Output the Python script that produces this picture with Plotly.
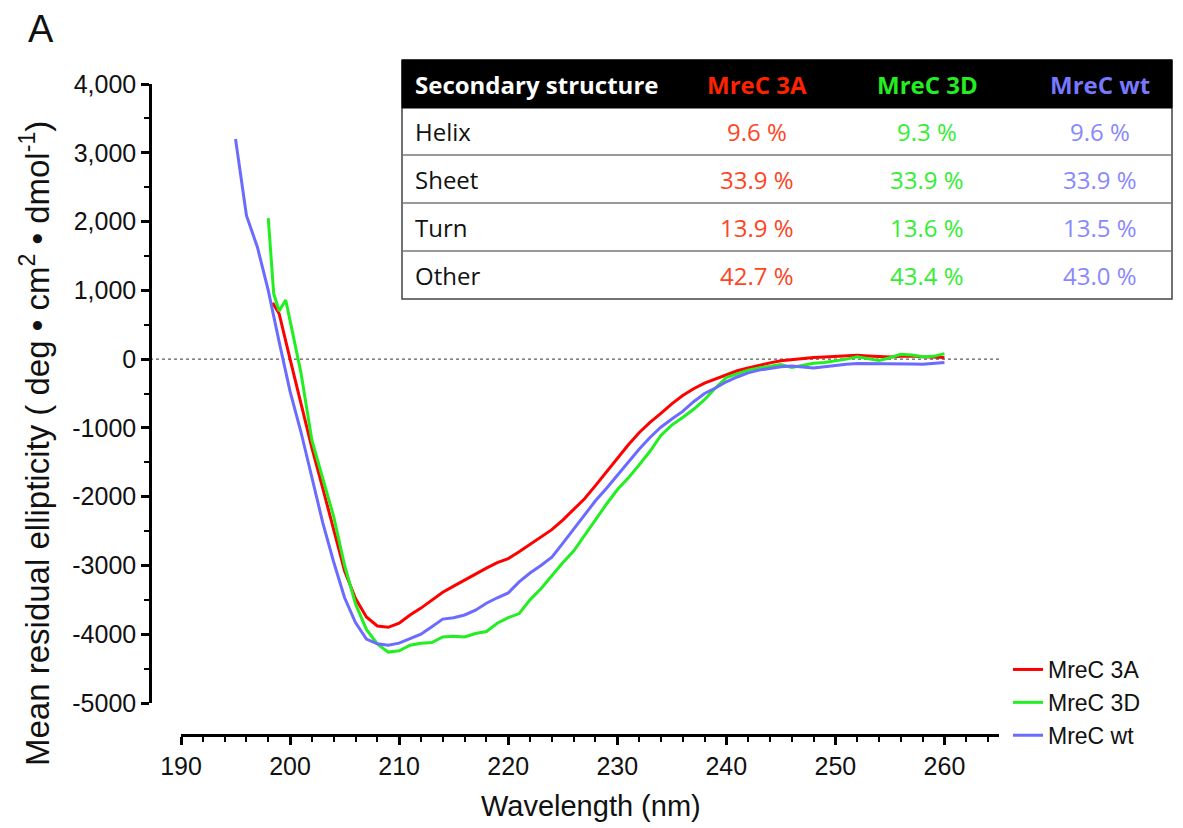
import plotly.graph_objects as go

# ---------------- data ----------------
wl_wt = [195, 196, 197, 198, 199, 200, 201, 202, 203, 204, 205, 206, 207, 208, 209, 210,
         211, 212, 213, 214, 215, 216, 217, 218, 219, 220, 221, 222, 223, 224, 225, 226,
         227, 228, 229, 230, 231, 232, 233, 234, 235, 236, 237, 238, 239, 240, 241, 242,
         243, 244, 245, 246, 247, 248, 249, 250, 251, 252, 253, 254, 255, 256, 257, 258,
         259, 260]
mre_wt = [3200, 2090, 1630, 1000, 250, -470, -1060, -1720, -2380, -2950, -3470, -3830,
          -4070, -4140, -4160, -4130, -4060, -4000, -3890, -3780, -3760, -3720, -3650,
          -3550, -3470, -3400, -3240, -3110, -3000, -2880, -2680, -2470, -2260, -2060,
          -1880, -1690, -1500, -1310, -1140, -990, -870, -760, -620, -500, -420, -330,
          -260, -200, -160, -130, -110, -100, -115, -130, -110, -90, -75, -65, -65, -60,
          -65, -70, -70, -75, -60, -48]

wl_3a = [198.4, 199, 200, 201, 202, 203, 204, 205, 206, 207, 208, 209, 210, 211, 212,
         213, 214, 215, 216, 217, 218, 219, 220, 221, 222, 223, 224, 225, 226, 227, 228,
         229, 230, 231, 232, 233, 234, 235, 236, 237, 238, 239, 240, 241, 242, 243, 244,
         245, 246, 247, 248, 249, 250, 251, 252, 253, 254, 255, 256, 257, 258, 259, 260]
mre_3a = [820, 660, 0, -660, -1290, -1880, -2480, -3080, -3480, -3750, -3880, -3900,
          -3840, -3720, -3620, -3500, -3390, -3300, -3210, -3120, -3040, -2960, -2900,
          -2800, -2690, -2580, -2480, -2340, -2180, -2030, -1840, -1640, -1440, -1250,
          -1070, -920, -790, -650, -530, -430, -350, -290, -230, -170, -130, -90, -55,
          -25, -5, 10, 25, 30, 35, 45, 55, 45, 35, 30, 40, 45, 35, 30, 25]

wl_3d = [198, 198.5, 199, 199.6, 200, 201, 202, 203, 204, 205, 206, 207, 208, 209, 210,
         211, 212, 213, 214, 215, 216, 217, 218, 219, 220, 221, 222, 223, 224, 225, 226,
         227, 228, 229, 230, 231, 232, 233, 234, 235, 236, 237, 238, 239, 240, 241, 242,
         243, 244, 245, 246, 247, 248, 249, 250, 251, 252, 253, 254, 255, 256, 257, 258,
         259, 260]
mre_3d = [2050, 950, 700, 860, 560, -200, -1180, -1750, -2290, -3000, -3560, -3930,
          -4140, -4260, -4240, -4160, -4130, -4120, -4040, -4030, -4040, -3990, -3960,
          -3840, -3760, -3700, -3500, -3340, -3150, -2960, -2790, -2560, -2330, -2110,
          -1900, -1730, -1540, -1340, -1110, -960, -850, -730, -590, -420, -270, -210,
          -160, -130, -100, -80, -120, -90, -60, -50, -30, 0, 35, 10, -20, 20, 70, 60,
          35, 40, 80]

series_names = ["MreC 3A", "MreC 3D", "MreC wt"]
line_colors = ["#ff0000", "#22ee22", "#6b6bff"]

y_tickvals = [4000, 3000, 2000, 1000, 0, -1000, -2000, -3000, -4000, -5000]
y_ticktext = ["4,000", "3,000", "2,000", "1,000", "0", "-1000", "-2000", "-3000", "-4000", "-5000"]
x_tickvals = [190, 200, 210, 220, 230, 240, 250, 260]

table_header = ["Secondary structure", "MreC 3A", "MreC 3D", "MreC wt"]
table_rows = ["Helix", "Sheet", "Turn", "Other"]
table_3a = ["9.6 %", "33.9 %", "13.9 %", "42.7 %"]
table_3d = ["9.3 %", "33.9 %", "13.6 %", "43.4 %"]
table_wt = ["9.6 %", "33.9 %", "13.5 %", "43.0 %"]
header_colors = ["#ffffff", "#ff2200", "#22ee22", "#7777ff"]
value_colors = ["#ff4422", "#33ee33", "#8888ff"]

# ---------------- layout geometry (screen pixels) ----------------
OFF = 8  # page body margin
W, H = 1183 - OFF, 828 - OFF
ML, MR, MT, MB = 150, 184, 84, 93   # screen-pixel positions of plot area edges
L_ = ML - OFF
T_ = MT - OFF
R_ = 999 - OFF
B_ = 735 - OFF
PW, PH = R_ - L_, B_ - T_


def px(xs):
    return (xs - OFF - L_) / PW


def py(ys):
    return (B_ - (ys - OFF)) / PH


fig = go.Figure()
for xs, ys, name, col in zip([wl_3a, wl_3d, wl_wt], [mre_3a, mre_3d, mre_wt],
                             series_names, line_colors):
    fig.add_trace(go.Scatter(x=xs, y=ys, mode="lines", name=name,
                             line=dict(color=col, width=3)))

arial = "Liberation Sans, Arial, sans-serif"
axis_font = dict(family=arial, size=25, color="#111")

fig.update_layout(
    width=W, height=H,
    margin=dict(l=L_, r=W - R_, t=T_, b=H - B_, autoexpand=False),
    paper_bgcolor="white", plot_bgcolor="white",
    showlegend=True,
    legend=dict(x=px(1008), y=py(648), xanchor="left", yanchor="top",
                font=dict(family=arial, size=23, color="#111"),
                bgcolor="rgba(0,0,0,0)", tracegroupgap=0, itemwidth=30),
    xaxis=dict(range=[190, 265], domain=[px(181), 1.0], anchor="free", position=0,
               showline=True, linecolor="black", linewidth=2.5, showgrid=False,
               zeroline=False, tickvals=x_tickvals, ticks="outside", ticklen=8,
               tickwidth=2.5, tickcolor="black", tickfont=axis_font,
               minor=dict(dtick=2, ticks="outside", ticklen=5, tickwidth=2,
                          tickcolor="black", showgrid=False)),
    yaxis=dict(range=[-5000, 4000], domain=[py(703), 1.0], anchor="free", position=0,
               showline=True, linecolor="black", linewidth=2.5, showgrid=False,
               zeroline=False, tickvals=y_tickvals, ticktext=y_ticktext,
               ticks="outside", ticklen=8, tickwidth=2.5, tickcolor="black",
               tickfont=axis_font,
               minor=dict(dtick=500, ticks="outside", ticklen=5, tickwidth=2,
                          tickcolor="black", showgrid=False)),
)

shapes = []
annotations = []

# zero dotted line
shapes.append(dict(type="line", xref="paper", yref="y", x0=px(150), x1=px(999), y0=0, y1=0,
                   line=dict(color="#333", width=1, dash="dot"), layer="below"))

# axis titles and panel letter
annotations.append(dict(text="Wavelength (nm)", xref="paper", yref="paper",
                        x=px(591), y=py(806), showarrow=False, xanchor="center",
                        yanchor="middle", font=dict(family=arial, size=29, color="#111")))
annotations.append(dict(text="Mean residual ellipticity ( deg \u2022 cm<sup>2</sup> \u2022 dmol<sup>-1</sup>)",
                        xref="paper", yref="paper", x=px(35), y=py(444), showarrow=False,
                        textangle=-90, xanchor="center", yanchor="middle",
                        font=dict(family=arial, size=33, color="#111")))
annotations.append(dict(text="A", xref="paper", yref="paper", x=px(41), y=py(29),
                        showarrow=False, xanchor="center", yanchor="middle",
                        font=dict(family=arial, size=38, color="#111")))

# table
TL, TR, TT = 402, 1172, 60
row_edges = [60, 108, 155, 203, 251, 299]
col_centers = [None, 757, 927, 1100]
tfont = "Open Sans, sans-serif"

shapes.append(dict(type="rect", xref="paper", yref="paper", x0=px(TL), x1=px(TR),
                   y0=py(row_edges[-1]), y1=py(TT), fillcolor="white",
                   line=dict(color="#444", width=1.5), layer="above"))
shapes.append(dict(type="rect", xref="paper", yref="paper", x0=px(TL), x1=px(TR),
                   y0=py(row_edges[1]), y1=py(TT), fillcolor="black",
                   line=dict(color="black", width=1), layer="above"))
for ye in row_edges[2:-1]:
    shapes.append(dict(type="line", xref="paper", yref="paper", x0=px(TL), x1=px(TR),
                       y0=py(ye), y1=py(ye), line=dict(color="#777", width=1.5), layer="above"))

hy = (row_edges[0] + row_edges[1]) / 2
annotations.append(dict(text="<b>" + table_header[0] + "</b>", xref="paper", yref="paper",
                        x=px(413), y=py(hy), xanchor="left", yanchor="middle", showarrow=False,
                        font=dict(family=tfont, size=24, color=header_colors[0])))
for j in range(1, 4):
    annotations.append(dict(text="<b>" + table_header[j] + "</b>", xref="paper", yref="paper",
                            x=px(col_centers[j]), y=py(hy), xanchor="center", yanchor="middle",
                            showarrow=False,
                            font=dict(family=tfont, size=24, color=header_colors[j])))

cols = [table_3a, table_3d, table_wt]
for i, lab in enumerate(table_rows):
    ry = (row_edges[i + 1] + row_edges[i + 2]) / 2
    annotations.append(dict(text=lab, xref="paper", yref="paper", x=px(413), y=py(ry),
                            xanchor="left", yanchor="middle", showarrow=False,
                            font=dict(family=tfont, size=24, color="#111")))
    for j in range(3):
        annotations.append(dict(text=cols[j][i], xref="paper", yref="paper",
                                x=px(col_centers[j + 1]), y=py(ry), xanchor="center",
                                yanchor="middle", showarrow=False,
                                font=dict(family=tfont, size=24, color=value_colors[j])))

fig.update_layout(shapes=shapes, annotations=annotations)
fig.write_html("out.html")
